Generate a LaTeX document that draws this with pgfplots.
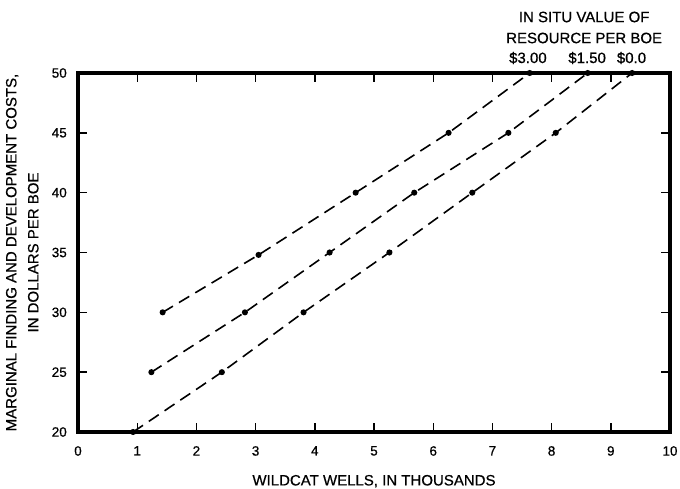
\documentclass[border=0pt]{standalone}
\usepackage{pgfplots}
\pgfplotsset{compat=1.18}
\usepackage{fontspec}
\setmainfont{Liberation Sans}[FakeBold=0.6]
\begin{document}
\fontsize{15}{22}\selectfont
\begin{tikzpicture}
\useasboundingbox (-78pt,-56pt) rectangle (602pt,432pt);
\begin{axis}[
  scale only axis,
  width=592pt, height=359pt,
  xmin=0, xmax=10, ymin=20, ymax=50,
  xtick={0,1,...,10}, ytick={20,25,...,50},
  /pgf/number format/assume math mode=true,
  tick label style={font=\fontsize{13.5}{13.5}\selectfont},
  xticklabel style={yshift=-9pt},
  yticklabel style={xshift=-6pt},
  tick align=inside,
  major tick length=9pt,
  major tick style={line width=1.4pt, black},
  axis line style={line width=4.5pt},
  clip=false,
  xlabel={WILDCAT WELLS, IN THOUSANDS},
  ylabel={MARGINAL FINDING AND DEVELOPMENT COSTS,\\IN DOLLARS PER BOE},
  xlabel style={font=\fontsize{15}{22}\selectfont, yshift=-9pt},
  ylabel style={font=\fontsize{15}{22}\selectfont, align=center, yshift=3pt},
]
\addplot[black, line width=1.6pt, dash pattern=on 12pt off 7pt, mark=*, mark size=2.2pt, mark options={solid}]
  coordinates {(1.43,30) (3.05,34.8) (4.69,40) (6.26,45) (7.63,50)};
\addplot[black, line width=1.6pt, dash pattern=on 12pt off 7pt, mark=*, mark size=2.2pt, mark options={solid}]
  coordinates {(1.24,25) (2.82,30) (4.25,35) (5.68,40) (7.27,45) (8.61,50)};
\addplot[black, line width=1.6pt, dash pattern=on 12pt off 7pt, mark=*, mark size=2.2pt, mark options={solid}]
  coordinates {(0.93,20) (2.43,25) (3.81,30) (5.26,35) (6.66,40) (8.07,45) (9.36,50)};
\node[font=\fontsize{15}{22}\selectfont] at (axis cs:8.55,50) [yshift=56pt] {IN SITU VALUE OF};
\node[font=\fontsize{15}{22}\selectfont] at (axis cs:8.55,50) [yshift=35pt] {RESOURCE PER BOE};
\node[font=\fontsize{15}{22}\selectfont] at (axis cs:7.6,50) [yshift=15pt] {\$3.00};
\node[font=\fontsize{15}{22}\selectfont] at (axis cs:8.6,50) [yshift=15pt] {\$1.50};
\node[font=\fontsize{15}{22}\selectfont] at (axis cs:9.35,50) [yshift=15pt] {\$0.0};
\end{axis}
\end{tikzpicture}
\end{document}
